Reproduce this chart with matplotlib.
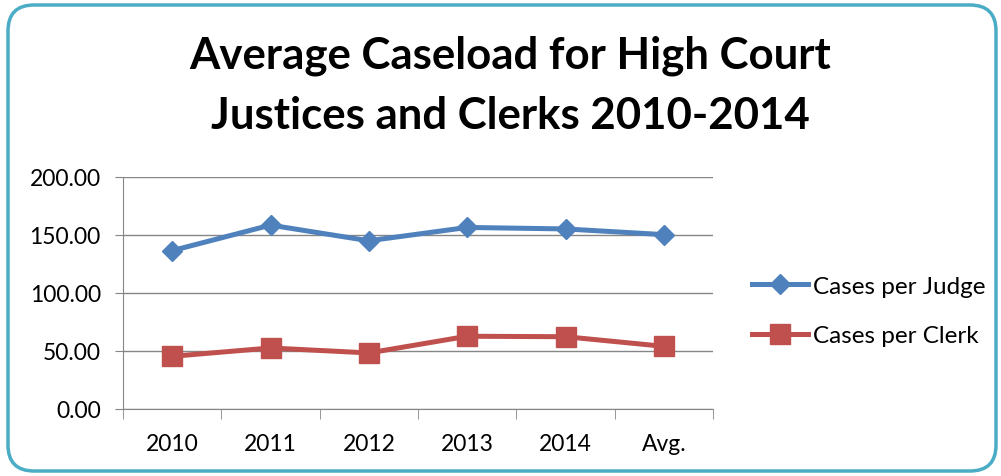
import matplotlib
matplotlib.use("Agg")
import matplotlib.pyplot as plt
from matplotlib.patches import FancyBboxPatch

# Data
years = ['2010', '2011', '2012', '2013', '2014', 'Avg.']
per_judge = [136.5, 158.5, 145.0, 156.5, 155.2, 150.3]
per_clerk = [45.4, 52.6, 48.3, 62.7, 62.3, 54.0]
y_ticks = [0, 50, 100, 150, 200]

plt.rcParams['font.family'] = ['Lato', 'DejaVu Sans']

fig = plt.figure(figsize=(10.01, 4.77), dpi=100)

# background with rounded teal border, in pixel units
bg = fig.add_axes([0, 0, 1, 1], zorder=-1)
bg.set_xlim(0, 1001)
bg.set_ylim(0, 477)
bg.axis('off')
border = FancyBboxPatch((8, 5), 988, 466, boxstyle='round,pad=0,rounding_size=26',
                        facecolor='white', edgecolor='#4BACC6', linewidth=2.5)
bg.add_patch(border)

ax = fig.add_axes([0.1229, 0.1405, 0.5894, 0.4864])
ax.set_facecolor('none')
x = list(range(len(years)))

ax.plot(x, per_judge, color='#4F81BD', lw=3.6, marker='D', markersize=10.5,
        label='Cases per Judge', zorder=3)
ax.plot(x, per_clerk, color='#C0504D', lw=3.6, marker='s', markersize=14,
        label='Cases per Clerk', zorder=3)

ax.set_xlim(-0.5, 5.5)
ax.set_ylim(0, 200)
ax.set_yticks(y_ticks)
ax.set_yticklabels(['%.2f' % v for v in y_ticks])
ax.set_xticks(x)
ax.set_xticklabels(years)
ax.set_xticks([i - 0.5 for i in range(len(years) + 1)], minor=True)
ax.tick_params(axis='x', which='major', length=0, pad=17, labelsize=16.5)
ax.tick_params(axis='x', which='minor', length=7, direction='out', color='#868686')
ax.tick_params(axis='y', length=6, direction='out', color='#868686', labelsize=16.5, pad=10)
ax.yaxis.grid(True, color='#868686', lw=1)
for s in ['top', 'right']:
    ax.spines[s].set_visible(False)
for s in ['left', 'bottom']:
    ax.spines[s].set_color('#868686')

fig.suptitle('Average Caseload for High Court\nJustices and Clerks 2010-2014',
             x=0.51, y=0.925, va='top', fontsize=31.5, fontweight='bold', linespacing=1.6)

fig.legend(loc='center left', bbox_to_anchor=(0.751, 0.346), frameon=False,
           fontsize=17.5, handlelength=2.3, labelspacing=1.17, handletextpad=0.2,
           borderpad=0, borderaxespad=0)

fig.savefig('out.png', dpi=100)
